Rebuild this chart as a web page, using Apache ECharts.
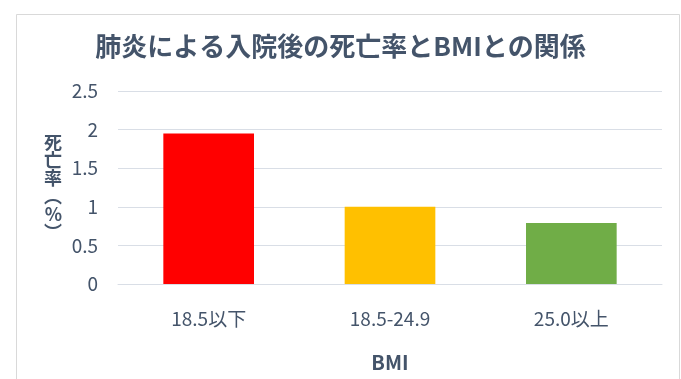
<!DOCTYPE html>
<html>
<head>
<meta charset="utf-8">
<script src="https://cdn.jsdelivr.net/npm/echarts@6/dist/echarts.min.js"></script>
<style>html,body{margin:0;padding:0;background:#fff;}#c{width:681px;height:379px;}</style>
</head>
<body>
<div id="c"></div>
<script>
const titleText = '肺炎による入院後の死亡率とBMIとの関係';
const categories = ['18.5以下', '18.5-24.9', '25.0以上'];
const values = [1.95, 1.0, 0.79];
const barColors = ['#FF0000', '#FFC000', '#70AD47'];
const yTicks = [0, 0.5, 1, 1.5, 2, 2.5];
const yName = '死亡率（%）';
const xName = 'BMI';

const textColor = '#44546A';
const fontFam = '"Noto Sans CJK JP", "Noto Sans", sans-serif';
const vertName = ['死', '亡', '率', '︵', '%', '︶'].join('\n');

const chart = echarts.init(document.getElementById('c'));
chart.setOption({
  animation: false,
  backgroundColor: '#ffffff',
  graphic: [{
    type: 'rect', left: 14, top: 12,
    shape: { width: 663, height: 380 },
    style: { fill: 'none', stroke: '#D9D9D9', lineWidth: 1 }
  }],
  title: {
    text: titleText, left: 'center', top: 28,
    textStyle: { fontSize: 26, fontWeight: 'bold', color: textColor, fontFamily: fontFam }
  },
  grid: { left: 118, right: 19, top: 91, bottom: 95 },
  xAxis: {
    type: 'category', data: categories,
    name: xName, nameLocation: 'middle', nameGap: 68,
    nameTextStyle: { fontSize: 20, fontWeight: 'bold', color: textColor, fontFamily: fontFam },
    axisLine: { show: true, lineStyle: { color: '#D9DEE6', width: 1 } },
    axisTick: { show: false },
    axisLabel: { fontSize: 19, color: textColor, margin: 25, fontFamily: fontFam }
  },
  yAxis: {
    type: 'value', min: yTicks[0], max: yTicks[yTicks.length - 1], interval: 0.5,
    name: vertName, nameLocation: 'middle', nameRotate: 0, nameGap: 56,
    nameTextStyle: { fontSize: 18, fontWeight: 'bold', color: textColor, lineHeight: 18, fontFamily: fontFam },
    axisLine: { show: false }, axisTick: { show: false },
    splitLine: { lineStyle: { color: '#D9DEE6', width: 1 } },
    axisLabel: { fontSize: 19, color: textColor, margin: 20, fontFamily: fontFam }
  },
  series: [{
    type: 'bar', barWidth: '50%',
    data: values.map((v, i) => ({ value: v, itemStyle: { color: barColors[i] } }))
  }]
});
</script>
</body>
</html>
